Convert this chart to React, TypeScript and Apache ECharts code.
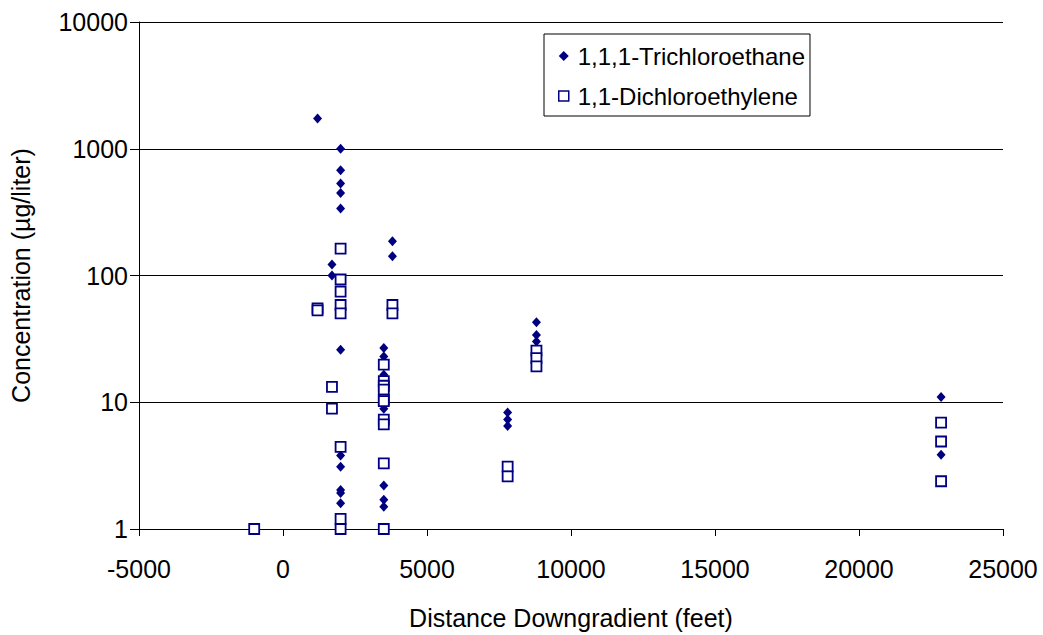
import React, { useEffect, useRef } from "react";
import * as echarts from "echarts";

const xTicks = [-5000, 0, 5000, 10000, 15000, 20000, 25000];
const yTicks = [1, 10, 100, 1000, 10000];

const tcaName = "1,1,1-Trichloroethane";
const tcaDistance = [1200, 2000, 2000, 2000, 2000, 2000, 1700, 1700, 3800, 3800, 2000, 2000, 2000, 2000, 2000, 2000, 3500, 3500, 3500, 3500, 3500, 3500, 3500, 3500, 3500, 7800, 7800, 7800, 8800, 8800, 8800, 22850, 22850];
const tcaConc = [1735, 1000, 678, 533, 448, 337, 122, 100, 186, 142, 26, 3.8, 3.1, 2.03, 1.92, 1.6, 26.8, 23, 21, 16.5, 12, 8.9, 2.2, 1.7, 1.5, 8.3, 7.3, 6.5, 42.8, 34, 30.2, 11, 3.85];

const dceName = "1,1-Dichloroethylene";
const dceDistance = [-1000, 1200, 1200, 1700, 1700, 2000, 2000, 2000, 2000, 2000, 2000, 2000, 2000, 3800, 3800, 3500, 3500, 3500, 3500, 3500, 3500, 3500, 3500, 3500, 3500, 7800, 7800, 8800, 8800, 8800, 22850, 22850, 22850];
const dceConc = [1, 55, 53, 13.2, 8.9, 163, 93, 74.5, 58.5, 50.3, 4.45, 1.2, 1.0, 58.5, 50.3, 19.8, 14.7, 13.5, 12.6, 10.5, 10.2, 7.3, 6.7, 3.3, 1.0, 3.1, 2.6, 25.5, 22.3, 19.2, 6.9, 4.9, 2.38];

const FONT = "Liberation Sans, Arial, sans-serif";
const NAVY = "#000080";

export default function App() {
  const ref = useRef<HTMLDivElement>(null);
  useEffect(() => {
    if (!ref.current) return;
    const chart = echarts.init(ref.current, null, { renderer: "svg" });
    const tcaData = tcaDistance.map((x, i) => [x, tcaConc[i]]);
    const dceData = dceDistance.map((x, i) => [x, dceConc[i]]);
    chart.setOption({
      animation: false,
      backgroundColor: "#fff",
      textStyle: { fontFamily: FONT },
      grid: { left: 139, right: 40, top: 22, bottom: 103, containLabel: false },
      legend: {
        orient: "vertical",
        left: 544,
        top: 34,
        backgroundColor: "#fff",
        borderColor: "#000",
        borderWidth: 1,
        borderRadius: 0,
        padding: [9, 5, 7, 14],
        itemGap: 14,
        itemWidth: 10,
        itemHeight: 10,
        textStyle: { fontFamily: FONT, fontSize: 24, color: "#000", lineHeight: 26, padding: [0, 0, 0, 4] },
        data: [
          { name: tcaName, icon: "diamond", itemStyle: { color: NAVY } },
          { name: dceName, icon: "rect", itemStyle: { color: "#fff", borderColor: NAVY, borderWidth: 1.5 } },
        ],
      },
      xAxis: {
        type: "value",
        min: xTicks[0],
        max: xTicks[xTicks.length - 1],
        interval: 5000,
        name: "Distance Downgradient (feet)",
        nameLocation: "middle",
        nameGap: 76,
        nameTextStyle: { fontFamily: FONT, fontSize: 25, color: "#000" },
        axisLine: { show: true, onZero: false, lineStyle: { color: "#000", width: 1 } },
        axisTick: { show: true, inside: false, length: 7, lineStyle: { color: "#000" } },
        axisLabel: { fontFamily: FONT, fontSize: 25, color: "#000", margin: 27, formatter: (v: number) => String(v) },
        splitLine: { show: false },
      },
      yAxis: {
        type: "log",
        logBase: 10,
        min: yTicks[0],
        max: yTicks[yTicks.length - 1],
        name: "Concentration (µg/liter)",
        nameLocation: "middle",
        nameGap: 106,
        nameTextStyle: { fontFamily: FONT, fontSize: 25, color: "#000" },
        axisLine: { show: true, onZero: false, lineStyle: { color: "#000", width: 1 } },
        axisTick: { show: true, inside: false, length: 9, lineStyle: { color: "#000" } },
        minorTick: { show: false },
        axisLabel: { fontFamily: FONT, fontSize: 25, color: "#000", margin: 11, formatter: (v: number) => String(v) },
        splitLine: { show: true, lineStyle: { color: "#000", width: 1 } },
      },
      series: [
        {
          name: tcaName,
          type: "scatter",
          symbol: "diamond",
          symbolSize: [9, 10],
          itemStyle: { color: NAVY, opacity: 1 },
          data: tcaData,
        },
        {
          name: dceName,
          type: "scatter",
          symbol: "rect",
          symbolSize: 10,
          itemStyle: { color: "#fff", borderColor: NAVY, borderWidth: 1.8, opacity: 1 },
          data: dceData,
        },
      ],
    });
    return () => chart.dispose();
  }, []);
  return (
    <div
      ref={ref}
      style={{ position: "fixed", left: 0, top: 0, width: 1043, height: 635, background: "#fff" }}
    />
  );
}
